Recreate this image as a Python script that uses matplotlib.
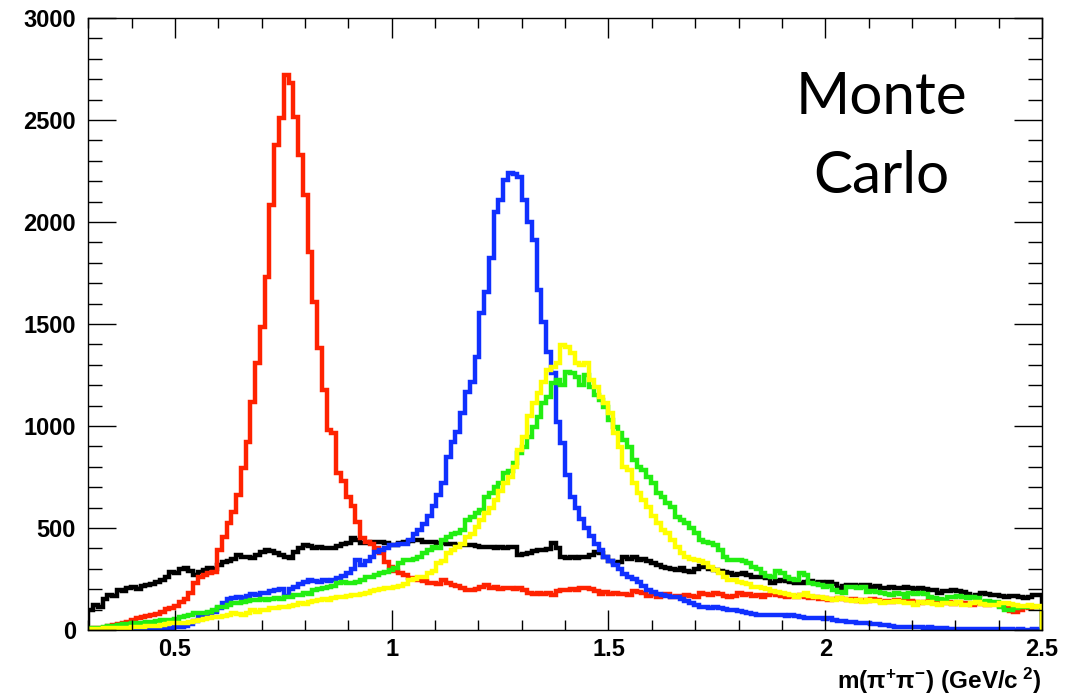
import numpy as np
import matplotlib
matplotlib.use("Agg")
import matplotlib.pyplot as plt
from matplotlib.ticker import MultipleLocator, FixedLocator

# 200 bins from 0.3 to 2.5 GeV/c^2
edges = np.linspace(0.3, 2.5, 201)

black_counts = [
    98, 122, 115, 150, 172, 165, 196, 190, 205, 211,
    200, 215, 220, 225, 235, 245, 260, 284, 280, 300,
    304, 290, 270, 285, 295, 304, 300, 320, 333, 340,
    350, 368, 360, 358, 355, 370, 380, 392, 385, 377,
    370, 360, 353, 380, 400, 417, 410, 402, 405, 402,
    400, 402, 410, 420, 426, 451, 440, 426, 426, 430,
    431, 431, 425, 417, 417, 425, 430, 435, 441, 440,
    432, 431, 431, 428, 426, 422, 420, 417, 418, 417,
    415, 410, 408, 405, 408, 400, 405, 400, 408, 405,
    368, 372, 377, 385, 392, 390, 395, 426, 400, 358,
    353, 358, 355, 360, 358, 370, 382, 377, 360, 340,
    328, 335, 358, 350, 358, 345, 350, 340, 330, 320,
    310, 304, 300, 295, 304, 290, 285, 300, 315, 309,
    300, 295, 290, 285, 279, 270, 275, 279, 270, 260,
    260, 262, 255, 230, 240, 245, 238, 235, 232, 230,
    235, 240, 232, 236, 230, 235, 225, 206, 215, 220,
    220, 218, 222, 220, 210, 215, 206, 208, 212, 205,
    206, 210, 205, 200, 206, 203, 198, 195, 181, 190,
    192, 196, 190, 185, 175, 162, 170, 181, 178, 172,
    170, 165, 162, 168, 165, 160, 157, 162, 170, 172,
]

red_counts = [
    5, 8, 10, 12, 18, 25, 30, 34, 40, 50,
    59, 62, 70, 74, 78, 90, 105, 110, 120, 135,
    150, 181, 230, 262, 272, 278, 284, 392, 456, 524,
    578, 662, 794, 922, 1118, 1309, 1485, 1730, 2083, 2377,
    2510, 2720, 2680, 2515, 2330, 2130, 1855, 1610, 1380, 1176,
    980, 965, 770, 730, 650, 610, 530, 451, 430, 420,
    400, 377, 333, 310, 290, 279, 270, 255, 250, 245,
    240, 230, 232, 228, 245, 230, 220, 215, 205, 196,
    196, 200, 210, 220, 205, 210, 200, 206, 205, 200,
    206, 195, 180, 176, 181, 175, 180, 170, 190, 196,
    195, 200, 196, 205, 206, 200, 190, 178, 185, 176,
    180, 175, 178, 170, 190, 185, 180, 165, 176, 162,
    170, 176, 162, 168, 160, 172, 165, 160, 181, 175,
    170, 181, 176, 165, 160, 168, 181, 170, 175, 165,
    170, 162, 172, 181, 170, 165, 160, 168, 162, 170,
    162, 155, 160, 150, 158, 147, 152, 157, 150, 145,
    150, 142, 148, 140, 152, 145, 138, 142, 137, 145,
    140, 135, 142, 137, 130, 138, 140, 132, 136, 130,
    135, 128, 137, 132, 130, 125, 132, 128, 122, 130,
    126, 120, 108, 95, 88, 100, 113, 108, 115, 112,
]

blue_counts = [
    2, 2, 3, 2, 3, 4, 3, 4, 5, 4,
    6, 5, 8, 10, 9, 12, 10, 12, 15, 14,
    18, 30, 45, 64, 75, 80, 88, 110, 130, 150,
    157, 160, 155, 165, 175, 170, 180, 181, 190, 196,
    200, 165, 200, 211, 225, 235, 245, 240, 235, 245,
    240, 245, 255, 265, 279, 300, 343, 320, 340, 358,
    380, 392, 400, 417, 417, 420, 420, 440, 470, 490,
    520, 560, 610, 660, 720, 850, 920, 972, 1063, 1168,
    1217, 1340, 1552, 1658, 1822, 2050, 2108, 2206, 2239, 2235,
    2222, 2108, 2002, 1912, 1667, 1511, 1364, 1260, 1021, 915,
    760, 650, 600, 545, 500, 460, 420, 390, 360, 340,
    320, 300, 275, 260, 250, 235, 215, 195, 185, 178,
    170, 165, 162, 160, 150, 140, 130, 122, 115, 112,
    110, 112, 108, 105, 100, 98, 95, 88, 84, 80,
    76, 74, 75, 72, 74, 73, 70, 72, 68, 62,
    60, 58, 59, 57, 55, 58, 50, 45, 44, 40,
    38, 36, 35, 32, 30, 28, 26, 25, 18, 15,
    15, 14, 15, 13, 14, 12, 13, 10, 8, 8,
    7, 6, 7, 5, 6, 5, 4, 5, 4, 4,
    3, 4, 3, 3, 2, 3, 2, 2, 3, 2,
]

green_counts = [
    8, 10, 12, 15, 18, 20, 25, 28, 30, 34,
    34, 35, 38, 40, 45, 49, 48, 50, 55, 64,
    68, 75, 83, 83, 85, 90, 98, 113, 115, 125,
    132, 130, 135, 140, 145, 147, 150, 147, 150, 155,
    152, 162, 160, 170, 172, 181, 178, 196, 200, 205,
    211, 215, 230, 235, 232, 230, 235, 245, 260, 262,
    270, 279, 285, 294, 304, 328, 343, 345, 350, 358,
    377, 390, 408, 400, 441, 456, 470, 475, 490, 539,
    554, 572, 588, 652, 671, 701, 720, 770, 780, 818,
    868, 897, 946, 995, 1044, 1112, 1142, 1210, 1225, 1200,
    1265, 1258, 1240, 1200, 1250, 1193, 1152, 1127, 1095, 1030,
    995, 964, 931, 897, 833, 800, 784, 750, 720, 671,
    652, 622, 603, 554, 540, 524, 500, 475, 441, 431,
    426, 417, 390, 358, 343, 343, 345, 340, 328, 309,
    300, 279, 265, 260, 290, 279, 260, 250, 245, 279,
    270, 230, 225, 220, 211, 215, 196, 185, 181, 211,
    211, 205, 211, 186, 190, 186, 181, 175, 170, 181,
    176, 162, 181, 178, 181, 176, 162, 155, 150, 147,
    160, 162, 165, 160, 158, 162, 155, 137, 140, 135,
    137, 113, 100, 98, 110, 113, 115, 118, 113, 115,
]

yellow_counts = [
    5, 5, 6, 8, 8, 10, 10, 12, 12, 15,
    15, 15, 18, 18, 20, 25, 30, 34, 34, 34,
    34, 40, 45, 49, 55, 60, 64, 64, 70, 75,
    83, 80, 75, 85, 98, 90, 98, 100, 108, 108,
    113, 113, 120, 125, 132, 128, 135, 140, 147, 150,
    147, 155, 160, 162, 165, 170, 172, 178, 181, 190,
    196, 200, 205, 206, 211, 215, 225, 245, 250, 260,
    262, 279, 290, 328, 340, 377, 390, 408, 420, 456,
    470, 505, 540, 572, 600, 637, 680, 720, 750, 800,
    880, 946, 1050, 1112, 1160, 1215, 1275, 1290, 1307, 1397,
    1385, 1356, 1310, 1300, 1307, 1225, 1193, 1142, 1112, 1063,
    964, 897, 800, 784, 720, 671, 637, 603, 560, 524,
    490, 475, 441, 408, 377, 358, 350, 343, 340, 328,
    310, 294, 279, 260, 245, 245, 235, 230, 225, 211,
    211, 206, 200, 190, 186, 181, 178, 170, 162, 170,
    181, 165, 162, 160, 158, 150, 147, 157, 150, 145,
    140, 147, 137, 145, 142, 140, 132, 137, 135, 140,
    137, 132, 130, 125, 135, 130, 137, 128, 122, 130,
    132, 128, 135, 125, 122, 130, 137, 128, 125, 122,
    125, 130, 132, 128, 125, 120, 118, 122, 115, 118,
]

x_ticks = [0.5, 1.0, 1.5, 2.0, 2.5]
x_labels = ["0.5", "1", "1.5", "2", "2.5"]

plt.rcParams['mathtext.fontset'] = 'custom'
plt.rcParams['mathtext.rm'] = 'Liberation Sans:bold'
plt.rcParams['mathtext.it'] = 'Liberation Sans:bold'
plt.rcParams['mathtext.bf'] = 'Liberation Sans:bold'

fig = plt.figure(figsize=(10.66, 6.97), dpi=100)
ax = fig.add_axes([0.0828, 0.0961, 0.8947, 0.8781])

lw = 3.2
ax.stairs(black_counts, edges, color='black', lw=lw)
ax.stairs(red_counts, edges, color='#ff2200', lw=lw)
ax.stairs(blue_counts, edges, color='#1030ff', lw=lw)
ax.stairs(green_counts, edges, color='#22ee11', lw=lw)
ax.stairs(yellow_counts, edges, color='#ffff00', lw=lw)

ax.set_xlim(0.3, 2.5)
ax.set_ylim(0, 3000)

ax.xaxis.set_major_locator(FixedLocator(x_ticks))
ax.set_xticklabels(x_labels)
ax.xaxis.set_minor_locator(MultipleLocator(0.1))
ax.yaxis.set_major_locator(MultipleLocator(500))
ax.yaxis.set_minor_locator(MultipleLocator(100))

ax.tick_params(axis='both', which='both', direction='in', top=True, right=True,
               width=1, color='black')
ax.tick_params(axis='x', which='major', length=14.5, pad=6)
ax.tick_params(axis='x', which='minor', length=7.2)
ax.tick_params(axis='y', which='major', length=20, pad=9)
ax.tick_params(axis='y', which='minor', length=10)

for lab in ax.get_xticklabels() + ax.get_yticklabels():
    lab.set_fontfamily('Liberation Sans')
    lab.set_fontweight('bold')
    lab.set_fontsize(17)

for s in ax.spines.values():
    s.set_linewidth(1)

ax.set_xlabel(r'$\mathrm{m(\pi^{+}\pi^{-})\ (GeV/c^{\ 2})}$', fontsize=17.5)
ax.xaxis.set_label_coords(1.0, -0.097)
ax.xaxis.label.set_horizontalalignment('right')
ax.xaxis.label.set_verticalalignment('baseline')

ax.text(0.832, 0.806, "Monte\nCarlo", transform=ax.transAxes, ha='center', va='center',
        fontsize=42, fontfamily='Lato', linespacing=1.6)

fig.savefig("out.png", dpi=100)
